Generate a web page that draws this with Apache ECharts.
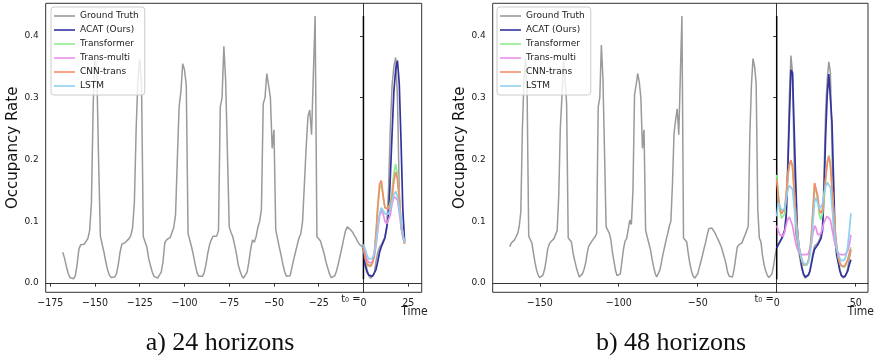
<!DOCTYPE html>
<html>
<head>
<meta charset="utf-8">
<script src="https://cdn.jsdelivr.net/npm/echarts@6/dist/echarts.min.js"></script>
<style>html,body{margin:0;padding:0;background:#fff}#c{width:881px;height:360px}</style>
</head>
<body>
<div id="c"></div>
<script>
// ---------- DATA ----------
const seriesNames = ['Ground Truth','ACAT (Ours)','Transformer','Trans-multi','CNN-trans','LSTM'];
const xTicksA = [-175,-150,-125,-100,-75,-50,-25,0,25];
const xTicksB = [-150,-100,-50,0,50];
const yTicks = [0,0.1,0.2,0.3,0.4];
const captions = ['a) 24 horizons','b) 48 horizons'];
const xAxisTitle = 'Time';
const yAxisTitle = 'Occupancy Rate';
const t0Text = 't\u2080 =';

// panel a: ground truth from t=-168 to t=23 (hourly)
const gtStartA = -168;
const gtA = [
0.050,0.040,0.027,0.016,0.009,0.007,0.007,0.012,0.030,0.055,0.062,0.063,0.063,0.066,0.072,0.085,0.130,0.290,0.360,0.345,0.200,0.076,
0.073,0.050,0.035,0.022,0.013,0.009,0.009,0.010,0.015,0.030,0.050,0.063,0.065,0.066,0.068,0.072,0.077,0.090,0.130,0.250,0.330,0.362,0.320,0.075,
0.074,0.058,0.040,0.028,0.018,0.011,0.008,0.008,0.010,0.018,0.035,0.065,0.070,0.073,0.074,0.076,0.090,0.110,0.200,0.285,0.310,0.355,0.345,0.320,0.080,
0.078,0.058,0.045,0.030,0.017,0.011,0.009,0.011,0.017,0.030,0.048,0.062,0.070,0.076,0.077,0.076,0.085,0.285,0.300,0.383,0.328,0.328,0.091,
0.082,0.075,0.062,0.048,0.030,0.020,0.012,0.008,0.010,0.018,0.035,0.055,0.070,0.066,0.075,0.090,0.100,0.120,0.290,0.300,0.339,0.320,0.300,0.218,0.248,0.086,
0.072,0.058,0.045,0.030,0.018,0.011,0.009,0.012,0.025,0.038,0.050,0.062,0.073,0.080,0.100,0.102,0.220,0.270,0.280,0.240,0.336,0.432,0.075,
0.073,0.068,0.058,0.048,0.035,0.025,0.015,0.009,0.007,0.012,0.020,0.032,0.045,0.058,0.072,0.085,0.091,0.090,0.086,0.082,0.077,0.072,0.066,0.062,0.060,
0.058,0.040,0.022,0.012,0.008,0.008,0.015,0.035,0.050,0.058,0.062,0.065,0.075,0.090,0.150,0.250,0.320,0.350,0.365,0.300,0.150,0.090,0.075,0.065
];
// panel a: forecasts, t=0..23
const predStartA = 0;
const acatA  = [0.057,0.028,0.018,0.013,0.010,0.011,0.016,0.022,0.035,0.050,0.059,0.066,0.073,0.090,0.110,0.170,0.242,0.310,0.345,0.360,0.323,0.230,0.120,0.067];
const transA = [0.060,0.042,0.032,0.028,0.028,0.033,0.046,0.078,0.120,0.152,0.160,0.140,0.122,0.119,0.121,0.130,0.150,0.178,0.193,0.175,0.138,0.100,0.078,0.064];
const multiA = [0.060,0.048,0.038,0.033,0.032,0.034,0.042,0.060,0.085,0.108,0.118,0.112,0.100,0.096,0.098,0.110,0.128,0.140,0.143,0.135,0.115,0.092,0.075,0.064];
const cnnA   = [0.060,0.040,0.030,0.027,0.027,0.032,0.045,0.080,0.125,0.160,0.166,0.142,0.122,0.119,0.120,0.126,0.140,0.165,0.180,0.168,0.135,0.100,0.078,0.064];
const lstmA  = [0.063,0.055,0.045,0.039,0.037,0.040,0.048,0.065,0.090,0.112,0.122,0.118,0.112,0.110,0.112,0.120,0.133,0.144,0.148,0.140,0.122,0.100,0.080,0.066];

// panel b: ground truth from t=-169 to t=47
const gtStartB = -169;
const gtB = [
0.059,0.065,0.067,0.070,0.075,0.080,0.092,0.115,0.250,0.330,0.363,0.305,0.076,
0.074,0.065,0.048,0.033,0.021,0.013,0.009,0.009,0.013,0.022,0.036,0.055,0.063,0.067,0.070,0.072,0.075,0.085,0.140,0.250,0.300,0.358,0.330,0.290,0.073,
0.070,0.067,0.050,0.038,0.027,0.018,0.010,0.009,0.015,0.022,0.032,0.048,0.060,0.063,0.068,0.070,0.075,0.080,0.285,0.300,0.385,0.331,0.328,0.091,
0.088,0.081,0.070,0.050,0.035,0.020,0.012,0.010,0.015,0.035,0.055,0.068,0.072,0.075,0.102,0.095,0.150,0.305,0.320,0.339,0.325,0.300,0.218,0.248,0.086,
0.075,0.065,0.055,0.040,0.027,0.016,0.010,0.013,0.021,0.033,0.047,0.058,0.070,0.080,0.092,0.100,0.160,0.242,0.264,0.282,0.240,0.336,0.432,0.073,
0.070,0.067,0.048,0.032,0.020,0.012,0.008,0.009,0.015,0.025,0.035,0.045,0.056,0.066,0.078,0.088,0.091,0.089,0.085,0.081,0.075,0.070,0.064,0.058,0.055,
0.040,0.030,0.017,0.011,0.008,0.010,0.022,0.040,0.058,0.062,0.064,0.065,0.072,0.078,0.085,0.092,0.240,0.320,0.363,0.350,0.323,0.120,0.073,
0.067,0.045,0.030,0.020,0.013,0.009,0.008,0.015,0.028,0.045,
0.058,0.062,0.066,0.070,0.075,0.085,0.100,0.200,0.300,0.368,0.340,0.200,0.080,0.068,0.050,0.035,0.022,0.013,0.008,0.008,0.012,0.020,0.035,0.050,
0.060,0.063,0.065,0.070,0.078,0.090,0.180,0.280,0.330,0.358,0.340,0.220,0.080,0.068,0.050,0.035,0.020,0.012,0.008,0.008,0.013,0.025,0.040,0.053
];
// panel b: forecasts, t=0..47
const predStartB = 0;
const acatB  = [0.057,0.062,0.067,0.072,0.078,0.085,0.110,0.180,0.265,0.345,0.340,0.255,0.167,0.090,0.058,0.043,0.025,0.015,0.010,0.010,0.013,0.019,0.032,0.045,
                0.055,0.058,0.062,0.065,0.072,0.085,0.150,0.240,0.305,0.338,0.335,0.260,0.167,0.072,0.045,0.033,0.020,0.012,0.010,0.010,0.013,0.020,0.030,0.038];
const transB = [0.175,0.145,0.118,0.105,0.103,0.112,0.140,0.172,0.190,0.198,0.188,0.150,0.112,0.082,0.060,0.046,0.035,0.029,0.028,0.029,0.035,0.048,0.078,0.118,
                0.160,0.162,0.135,0.110,0.103,0.112,0.135,0.168,0.195,0.207,0.192,0.155,0.118,0.083,0.058,0.041,0.032,0.027,0.025,0.026,0.029,0.037,0.048,0.058];
const multiB = [0.093,0.085,0.078,0.075,0.076,0.082,0.094,0.103,0.107,0.104,0.093,0.078,0.065,0.056,0.050,0.047,0.046,0.046,0.046,0.046,0.047,0.050,0.065,0.082,
                0.093,0.088,0.078,0.075,0.080,0.090,0.098,0.104,0.108,0.110,0.102,0.088,0.075,0.062,0.053,0.048,0.046,0.046,0.046,0.046,0.048,0.052,0.062,0.078];
const cnnB   = [0.168,0.140,0.122,0.112,0.110,0.120,0.145,0.175,0.192,0.199,0.188,0.150,0.115,0.085,0.062,0.048,0.036,0.030,0.029,0.030,0.036,0.050,0.080,0.120,
                0.162,0.165,0.140,0.118,0.113,0.120,0.140,0.170,0.195,0.205,0.190,0.155,0.120,0.085,0.060,0.042,0.033,0.028,0.026,0.027,0.030,0.038,0.048,0.055];
const lstmB  = [0.108,0.130,0.128,0.118,0.115,0.120,0.135,0.150,0.158,0.161,0.152,0.125,0.100,0.078,0.060,0.047,0.038,0.032,0.030,0.030,0.034,0.045,0.065,0.100,
                0.132,0.138,0.128,0.120,0.118,0.128,0.145,0.157,0.163,0.162,0.155,0.125,0.095,0.072,0.057,0.047,0.040,0.036,0.036,0.038,0.045,0.060,0.085,0.113];

// vertical marker at t0: from lowest to highest observed value
const t0Line = [0.0065, 0.432];

// ---------- CHART ----------
const colors = {
  'Ground Truth':'#9a9a9a','ACAT (Ours)':'#33339f','Transformer':'#90ec90',
  'Trans-multi':'#ea8eea','CNN-trans':'#f48c68','LSTM':'#8ed0ee'
};
function pairs(start, vals){ return vals.map((v,i)=>[start+i, v]); }

const chart = echarts.init(document.getElementById('c'), null, {renderer:'canvas'});
const grids = [
  {left:45.7, top:3.3, width:376, height:289},
  {left:492.7, top:3.3, width:375.3, height:289}
];
const captionCenters = [220, 671];
const xRanges = [[-177.55, 32.55],[-179.8, 57.8]];
const xTickSets = [xTicksA, xTicksB];
const minus = v => v < 0 ? '\u2212' + (-v) : String(v);

const xAxes = [0,1].map(i => ({
  type:'value', gridIndex:i, min:xRanges[i][0], max:xRanges[i][1],
  axisLine:{show:true, lineStyle:{color:'#333', width:1}},
  axisTick:{show:true, length:3.5, inside:false, lineStyle:{color:'#333'}, customValues:xTickSets[i]},
  axisLabel:{show:true, margin:5, fontFamily:'DejaVu Sans Condensed, DejaVu Sans', fontSize:10.5, color:'#222', customValues:xTickSets[i], formatter:minus},
  splitLine:{show:false}
}));
const yAxes = [0,1].map(i => ({
  type:'value', gridIndex:i, min:-0.0148, max:0.4525,
  name:yAxisTitle, nameLocation:'middle', nameGap:23,
  nameTextStyle:{fontFamily:'DejaVu Sans', fontSize:15, color:'#111'},
  axisLine:{show:true, lineStyle:{color:'#333', width:1}},
  axisTick:{show:true, length:3.5, lineStyle:{color:'#333'}, customValues:yTicks},
  axisLabel:{show:true, margin:7, fontFamily:'DejaVu Sans', fontSize:9, color:'#222', customValues:yTicks, formatter:v=>v.toFixed(1)},
  splitLine:{show:false}
}));

function lineSeries(name, idx, data, width){
  return {name, type:'line', xAxisIndex:idx, yAxisIndex:idx, data, color:colors[name],
    showSymbol:false, symbol:'none', smooth:false, lineStyle:{width:width, color:colors[name]},
    emphasis:{disabled:true}, silent:true};
}
function vline(idx){
  return {name:'t0', type:'line', xAxisIndex:idx, yAxisIndex:idx, data:[[0,t0Line[0]],[0,t0Line[1]]],
    showSymbol:false, symbol:'none', lineStyle:{width:1.5, color:'#000'}, silent:true};
}
const panels = [
  {idx:0, gtStart:gtStartA, gt:gtA, ps:predStartA, preds:[acatA,transA,multiA,cnnA,lstmA]},
  {idx:1, gtStart:gtStartB, gt:gtB, ps:predStartB, preds:[acatB,transB,multiB,cnnB,lstmB]}
];
const series = [];
panels.forEach(p => {
  series.push(lineSeries('Ground Truth', p.idx, pairs(p.gtStart, p.gt), 1.5));
  series.push(vline(p.idx));
  p.preds.forEach((arr,k) => series.push(lineSeries(seriesNames[k+1], p.idx, pairs(p.ps, arr), 1.7)));
});

const legendBase = {
  orient:'vertical', data:seriesNames, icon:'rect', itemWidth:21, itemHeight:1.6, itemGap:2,
  padding:[3,6,3,3], backgroundColor:'rgba(255,255,255,0.8)', borderColor:'#cccccc', borderWidth:1, borderRadius:3,
  textStyle:{fontFamily:'DejaVu Sans', fontSize:9, color:'#222', lineHeight:12}, selectedMode:false
};

chart.setOption({
  animation:false,
  grid: grids.map(g => Object.assign({show:true, borderColor:'#333', borderWidth:1, backgroundColor:'transparent', containLabel:false}, g)),
  xAxis: xAxes, yAxis: yAxes,
  legend:[Object.assign({left:51, top:7}, legendBase), Object.assign({left:497, top:7}, legendBase)],
  series
});

// annotations tied to the axes
const g = [];
[0,1].forEach(i => {
  const p0 = chart.convertToPixel({gridIndex:i}, [0, 0]);
  const bottom = grids[i].top + grids[i].height;
  const right = grids[i].left + grids[i].width;
  g.push({type:'text', x:p0[0]-3, y:bottom+1.5,
    style:{text:t0Text, fill:'#222', font:'11px "DejaVu Sans Condensed", "DejaVu Sans"', textAlign:'right', textVerticalAlign:'top'}});
  g.push({type:'text', x:right+6, y:bottom+14,
    style:{text:xAxisTitle, fill:'#222', font:'12px "DejaVu Sans Condensed", "DejaVu Sans"', textAlign:'right', textVerticalAlign:'top'}});
  g.push({type:'text', x:captionCenters[i], y:343,
    style:{text:captions[i], fill:'#111', font:'26px "Liberation Serif", "DejaVu Serif", serif', textAlign:'center', textVerticalAlign:'middle'}});
});
chart.setOption({graphic:g});
</script>
</body>
</html>
